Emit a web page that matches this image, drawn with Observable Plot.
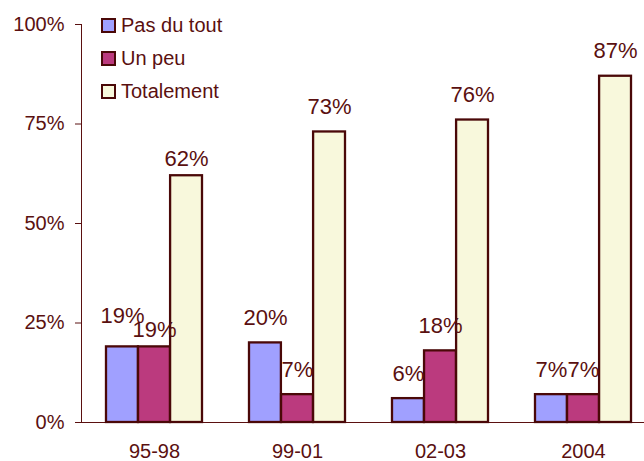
<!DOCTYPE html>
<html>
<head>
<meta charset="utf-8">
<script src="https://cdn.jsdelivr.net/npm/d3@7"></script>
<script src="https://cdn.jsdelivr.net/npm/@observablehq/plot@0.6"></script>
<style>
  html, body { margin: 0; padding: 0; background: #fff; }
  #wrap { position: relative; width: 644px; height: 461px; overflow: hidden; font-family: "Liberation Sans", Arial, sans-serif; }
  #legend { position: absolute; left: 101px; top: 9px; color: #5a1010; font-size: 20px; }
  .row { display: flex; align-items: center; height: 33px; }
  .sw { width: 11px; height: 11px; border: 2px solid #4a0808; margin-right: 5px; }
</style>
</head>
<body>
<div id="wrap"><div id="legend"></div></div>
<script>
const groups = ["95-98", "99-01", "02-03", "2004"];
const series = ["Pas du tout", "Un peu", "Totalement"];
const pasDuTout = [19, 20, 6, 7];
const unPeu = [19, 7, 18, 7];
const totalement = [62, 73, 76, 87];
const yTicks = [0, 25, 50, 75, 100];
const colors = ["#a0a0ff", "#bb3a7e", "#f8f8dc"];

const seriesValues = [pasDuTout, unPeu, totalement];
const data = groups.flatMap((g, i) => series.map((s, j) => ({group: g, series: s, value: seriesValues[j][i]})));

const textColor = "#5a1010";
const edge = "#4a0808";

// layout of the group band scale
const xRange = [81, 655];
const padInner = 0.33, padOuter = 0.165;
const step = (xRange[1] - xRange[0]) / (groups.length - padInner + 2 * padOuter);
const bw = step * (1 - padInner);
const sub = bw / series.length;

// label vertical offset (the two equal labels of the first group are staggered)
const labelDy = d => d.group === groups[0] ? (d.series === series[0] ? -24 : -10) : -18;

const marks = [];
series.forEach((s, j) => {
  const rows = data.filter(d => d.series === s);
  marks.push(Plot.barY(rows, {
    x: "group", y: "value", fill: "series", stroke: edge, strokeWidth: 2.3,
    insetLeft: j * sub, insetRight: (series.length - 1 - j) * sub
  }));
});
series.forEach((s, j) => {
  const rows = data.filter(d => d.series === s);
  const dys = Array.from(new Set(rows.map(labelDy)));
  dys.forEach(dy => {
    marks.push(Plot.text(rows.filter(d => labelDy(d) === dy), {
      x: "group", y: "value", text: d => d.value + "%", lineAnchor: "bottom",
      fontSize: 22, fill: textColor, dx: (j - 1) * sub, dy
    }));
  });
});

const chart = Plot.plot({
  width: 644,
  height: 461,
  marginLeft: 81,
  marginRight: 0,
  marginTop: 24,
  marginBottom: 39,
  style: {fontFamily: "'Liberation Sans', Arial, sans-serif", fontSize: "20px", color: textColor, background: "transparent"},
  x: {domain: groups, range: xRange, paddingInner: padInner, paddingOuter: padOuter, label: null, tickSize: 0, tickPadding: 21, line: true},
  y: {domain: [0, 100], ticks: yTicks, tickFormat: d => d + "%", tickSize: 6, tickPadding: 11, label: null, line: true},
  color: {domain: series, range: colors},
  marks
});
document.getElementById("wrap").prepend(chart);

const legend = document.getElementById("legend");
series.forEach((s, j) => {
  const row = document.createElement("div");
  row.className = "row";
  const sw = document.createElement("div");
  sw.className = "sw";
  sw.style.background = colors[j];
  const lab = document.createElement("span");
  lab.textContent = s;
  row.append(sw, lab);
  legend.append(row);
});
</script>
</body>
</html>
